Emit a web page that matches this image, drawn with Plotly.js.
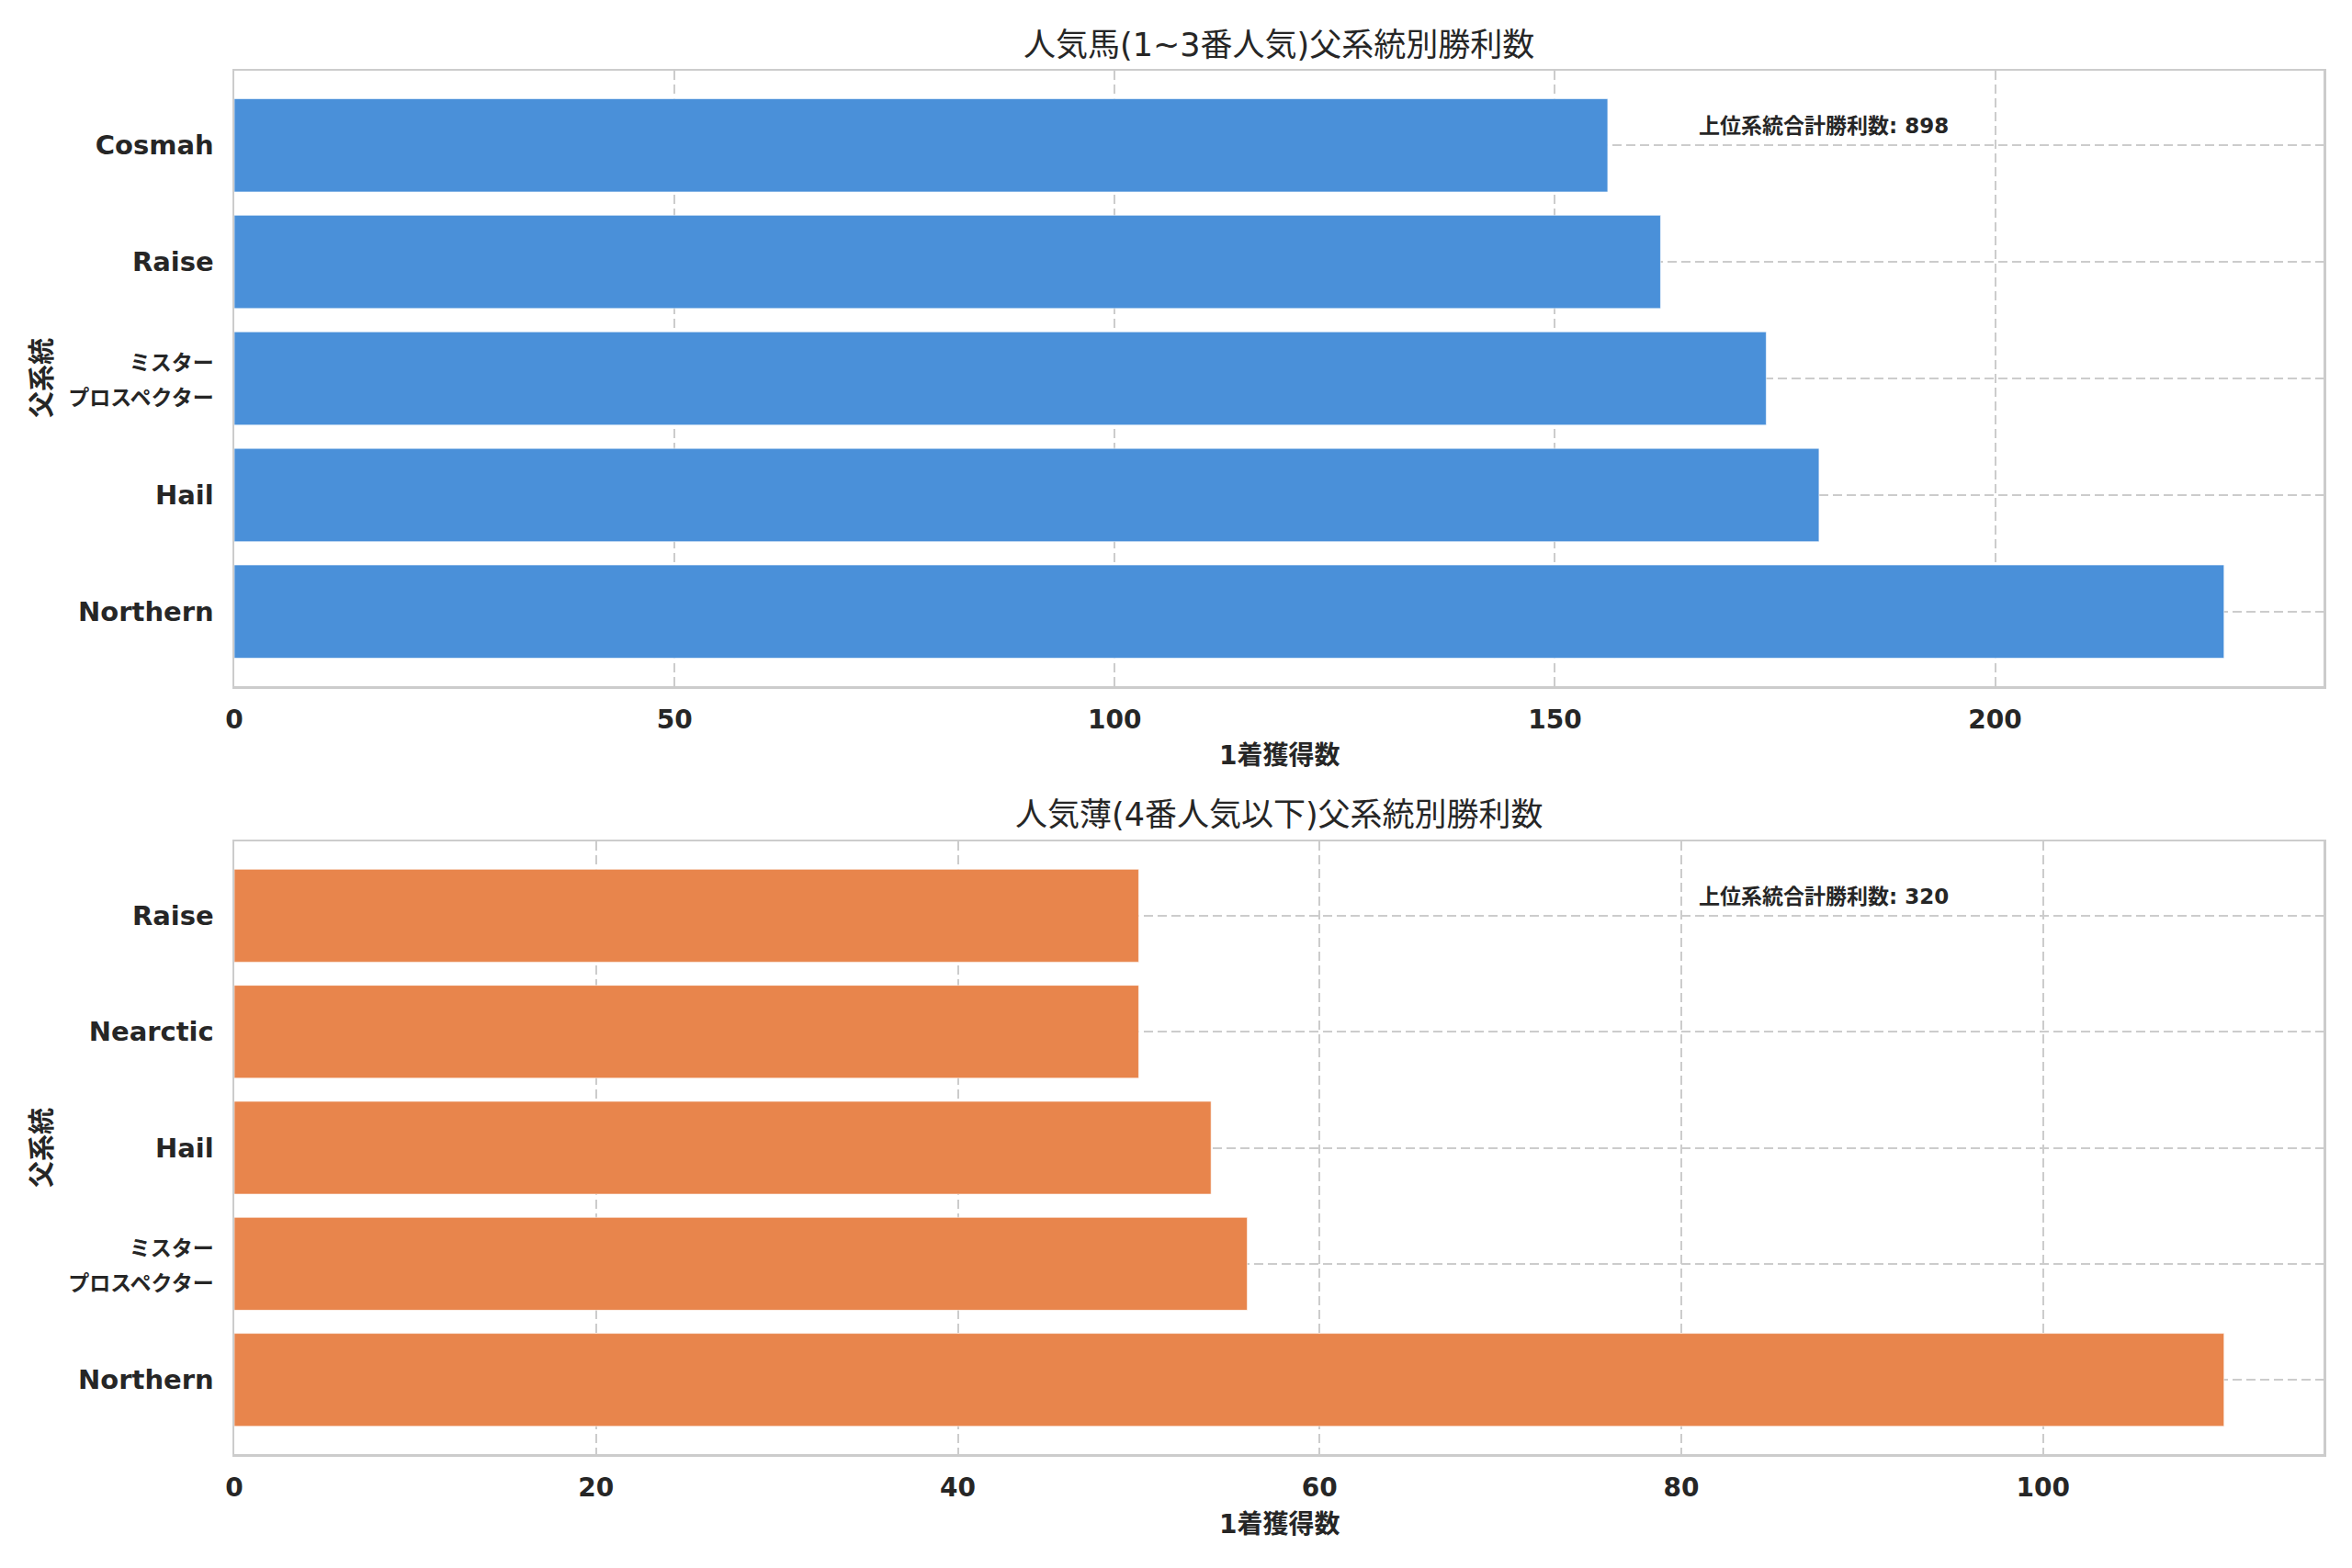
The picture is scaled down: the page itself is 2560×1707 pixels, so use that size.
<!DOCTYPE html>
<html>
<head>
<meta charset="utf-8">
<script src="https://cdn.plot.ly/plotly-3.0.1.min.js"></script>
<style>
  html, body { margin: 0; padding: 0; background: #fff; }
  #chart { width: 2560px; height: 1707px; }
</style>
</head>
<body>
<div id="chart"></div>
<script>
/* two horizontal bar panels: wins by sire line, favourites vs outsiders */

// top panel: 1-3番人気
var topSires = ["Northern", "Hail", "ミスタープロスペクター", "Raise", "Cosmah"];
var topWins = [226, 180, 174, 162, 156];

// bottom panel: 4番人気以下
var lowSires = ["Northern", "ミスタープロスペクター", "Hail", "Nearctic", "Raise"];
var lowWins = [110, 56, 54, 50, 50];

var topTitle = "人気馬(1~3番人気)父系統別勝利数";
var lowTitle = "人気薄(4番人気以下)父系統別勝利数";
var xLabel = "1着獲得数";
var yLabel = "父系統";
var totalLabel = "上位系統合計勝利数";

var BLUE = "#4A90D9";
var ORANGE = "#E8854C";
var GRID = "#cccccc";
var INK = "#262626";
var FONT = "'DejaVu Sans', 'Noto Sans CJK JP', sans-serif";

function sum(a) { return a.reduce(function (s, v) { return s + v; }, 0); }
function maxOf(a) { return Math.max.apply(null, a); }
// the long katakana name will not fit the left margin on one line
function tickText(name) {
  if (name !== "ミスタープロスペクター") return name;
  return '<span style="font-size:23px">ミスター<br>プロスペクター</span>';
}

function barTrace(names, vals, color, xa, ya) {
  return {
    type: "bar", orientation: "h", x: vals, y: names,
    xaxis: xa, yaxis: ya,
    marker: { color: color, line: { color: "rgba(255,255,255,0.6)", width: 1 } },
    hoverinfo: "x+y", showlegend: false
  };
}

function xAxis(domainY, maxVal, dtick, anchor) {
  return {
    domain: [255 / 2560, 2529 / 2560], anchor: anchor,
    range: [0, maxVal * 1.05], dtick: dtick, tick0: 0,
    showgrid: true, gridcolor: GRID, gridwidth: 2, griddash: "10px,5px",
    zeroline: false, ticks: "",
    showline: true, mirror: true, linecolor: GRID, linewidth: 2.5,
    ticklabelstandoff: 10,
    tickfont: { family: FONT, size: 28, color: INK, weight: "bold" }
  };
}

function yAxis(domain, names, anchor) {
  return {
    domain: domain, anchor: anchor,
    type: "category", categoryorder: "array", categoryarray: names,
    range: [-0.64, names.length - 1 + 0.64],
    tickmode: "array", tickvals: names, ticktext: names.map(tickText),
    showgrid: true, gridcolor: GRID, gridwidth: 2, griddash: "10px,5px",
    zeroline: false, ticks: "",
    showline: true, mirror: true, linecolor: GRID, linewidth: 2.5,
    ticklabelstandoff: 14,
    tickfont: { family: FONT, size: 29, color: INK, weight: "bold" }
  };
}

var topDomain = [1 - 747 / 1707, 1 - 77 / 1707];
var lowDomain = [1 - 1583 / 1707, 1 - 916 / 1707];

var traces = [
  barTrace(topSires, topWins, BLUE, "x", "y"),
  barTrace(lowSires, lowWins, ORANGE, "x2", "y2")
];

function note(text, x, y, size, bold, extra) {
  var a = {
    text: text, x: x, y: y, xref: "paper", yref: "paper",
    showarrow: false, xanchor: "center", yanchor: "middle",
    font: { family: FONT, size: size, color: INK, weight: bold ? "bold" : "normal" }
  };
  for (var k in extra) a[k] = extra[k];
  return a;
}

var midX = (255 + 2529) / 2 / 2560;
var annotations = [
  note(topTitle, midX, 1 - 49 / 1707, 35, false),
  note(lowTitle, midX, 1 - 887 / 1707, 35, false),
  note(xLabel, midX, 1 - 822 / 1707, 28, true),
  note(xLabel, midX, 1 - 1659 / 1707, 28, true),
  note(yLabel, 46 / 2560, 1 - 412 / 1707, 29, true, { textangle: -90 }),
  note(yLabel, 46 / 2560, 1 - 1250 / 1707, 29, true, { textangle: -90 }),
  note(totalLabel + ": " + sum(topWins), 0.7, 0.91, 23, true,
    { xref: "x domain", yref: "y domain", xanchor: "left" }),
  note(totalLabel + ": " + sum(lowWins), 0.7, 0.91, 23, true,
    { xref: "x2 domain", yref: "y2 domain", xanchor: "left" })
];

var layout = {
  width: 2560, height: 1707,
  margin: { l: 0, r: 0, t: 0, b: 0 },
  paper_bgcolor: "#ffffff", plot_bgcolor: "#ffffff",
  font: { family: FONT, color: INK },
  bargap: 0.2,
  xaxis: xAxis(topDomain, maxOf(topWins), 50, "y"),
  yaxis: yAxis(topDomain, topSires, "x"),
  xaxis2: xAxis(lowDomain, maxOf(lowWins), 20, "y2"),
  yaxis2: yAxis(lowDomain, lowSires, "x2"),
  annotations: annotations
};

Plotly.newPlot("chart", traces, layout, { displayModeBar: false, staticPlot: true });
</script>
</body>
</html>
